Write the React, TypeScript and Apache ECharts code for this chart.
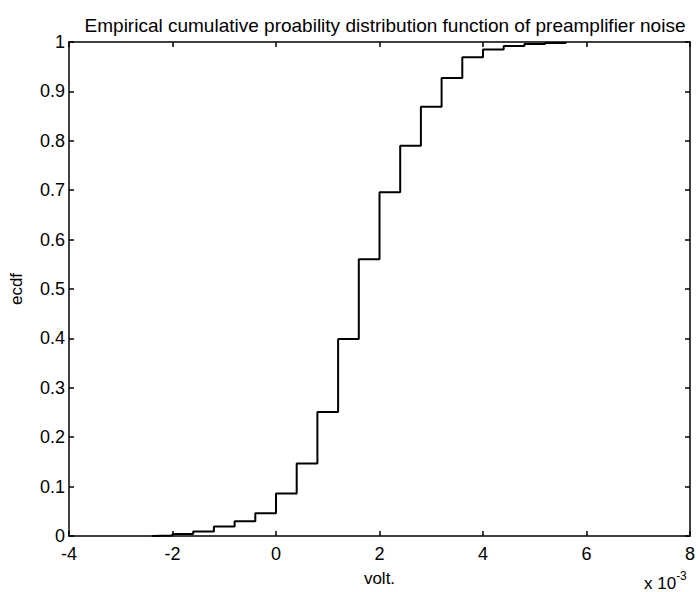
import React, { useEffect, useRef } from "react";
import * as echarts from "echarts";

// Voltage steps (x 10^-3 V) and empirical CDF values after each step
const voltSteps: number[] = [-2.4, -2.0, -1.6, -1.2, -0.8, -0.4, 0.0, 0.4, 0.8, 1.2, 1.6, 2.0, 2.4, 2.8, 3.2, 3.6, 4.0, 4.4, 4.8, 5.2, 5.6];
const ecdfValues: number[] = [0.001, 0.004, 0.009, 0.019, 0.030, 0.046, 0.086, 0.147, 0.251, 0.399, 0.560, 0.696, 0.790, 0.869, 0.927, 0.969, 0.985, 0.992, 0.996, 0.998, 1.0];
const xTickLabels: string[] = ["-4", "-2", "0", "2", "4", "6", "8"];
const yTickLabels: string[] = ["0", "0.1", "0.2", "0.3", "0.4", "0.5", "0.6", "0.7", "0.8", "0.9", "1"];

const titleText = "Empirical cumulative proability distribution function of preamplifier noise";
const FONT = "'Liberation Sans', Arial, sans-serif";

export default function App() {
  const ref = useRef<HTMLDivElement>(null);
  useEffect(() => {
    if (!ref.current) return;
    const chart = echarts.init(ref.current, undefined, { renderer: "svg" });
    const data: number[][] = [[voltSteps[0], 0]];
    voltSteps.forEach((v, i) => data.push([v, ecdfValues[i]]));
    const axisLine = { show: true, onZero: false, lineStyle: { color: "#000", width: 1.5 } };
    const ticks = { show: true, inside: true, length: 5, lineStyle: { color: "#000", width: 1.5 } };
    const labelStyle = { color: "#000", fontSize: 18, fontFamily: FONT };
    chart.setOption({
      animation: false,
      backgroundColor: "#fff",
      title: {
        text: titleText,
        left: 380,
        textAlign: "center",
        top: 11,
        textStyle: { color: "#000", fontSize: 19, fontWeight: "normal", fontFamily: FONT },
      },
      grid: { left: 67.5, right: 7.5, top: 42, bottom: 55 },
      xAxis: [
        {
          type: "value",
          min: -4,
          max: 8,
          interval: 2,
          position: "bottom",
          name: "volt.",
          nameLocation: "middle",
          nameGap: 34,
          nameTextStyle: { color: "#000", fontSize: 17, fontFamily: FONT },
          axisLine,
          axisTick: ticks,
          splitLine: { show: false },
          axisLabel: {
            ...labelStyle,
            margin: 9,
            formatter: (v: number) => xTickLabels[Math.round((v + 4) / 2)] ?? String(v),
          },
        },
        {
          type: "value",
          min: -4,
          max: 8,
          interval: 2,
          position: "top",
          axisLine,
          axisTick: ticks,
          splitLine: { show: false },
          axisLabel: { show: false },
        },
      ],
      yAxis: [
        {
          type: "value",
          min: 0,
          max: 1,
          interval: 0.1,
          position: "left",
          name: "ecdf",
          nameLocation: "middle",
          nameGap: 44,
          nameRotate: 90,
          nameTextStyle: { color: "#000", fontSize: 17, fontFamily: FONT },
          axisLine,
          axisTick: ticks,
          splitLine: { show: false },
          axisLabel: {
            ...labelStyle,
            margin: 4,
            formatter: (v: number) => yTickLabels[Math.round(v * 10)] ?? String(v),
          },
        },
        {
          type: "value",
          min: 0,
          max: 1,
          interval: 0.1,
          position: "right",
          axisLine,
          axisTick: ticks,
          splitLine: { show: false },
          axisLabel: { show: false },
        },
      ],
      graphic: [
        {
          type: "text",
          left: 644,
          top: 570,
          style: {
            text: "x 10{sup|-3}",
            fill: "#000",
            fontSize: 17,
            fontFamily: FONT,
            rich: {
              sup: { fontSize: 12, fontFamily: FONT, fill: "#000", verticalAlign: "top", padding: [0, 0, 14, 0] },
            },
          },
        },
      ],
      series: [
        {
          type: "line",
          step: "end",
          data,
          showSymbol: false,
          symbol: "none",
          lineStyle: { color: "#000", width: 2 },
          xAxisIndex: 0,
          yAxisIndex: 0,
        },
      ],
    });
    return () => chart.dispose();
  }, []);
  return <div ref={ref} style={{ width: 698, height: 592, position: "absolute", left: 0, top: 0 }} />;
}
